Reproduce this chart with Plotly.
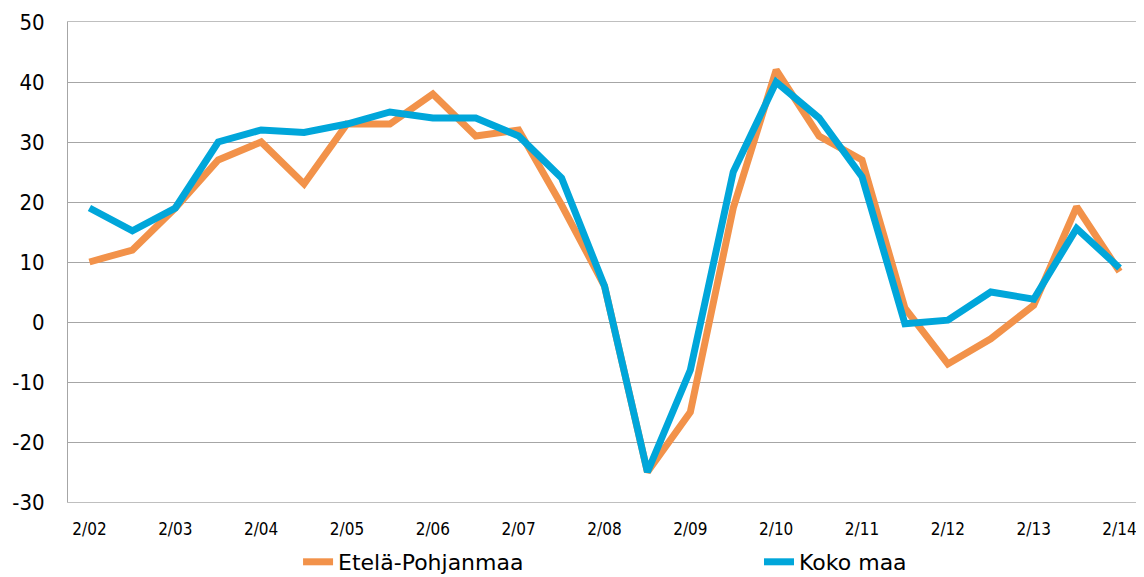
import plotly.graph_objects as go

categories = []
for yr in range(2, 15):
    categories.append(f"2/{yr:02d}")
    if yr < 14:
        categories.append(f"8/{yr:02d}")

tick_labels = [f"2/{yr:02d}" for yr in range(2, 15)]
y_ticks = [-30, -20, -10, 0, 10, 20, 30, 40, 50]

etela_pohjanmaa = [10, 12, 19, 27, 30, 23, 33, 33, 38, 31, 32, 19.5, 6,
                   -25, -15, 19, 42, 31, 27, 2.3, -7, -2.8, 2.8, 19.2, 8.4]
koko_maa = [19, 15.2, 19, 30, 32, 31.6, 33, 35, 34, 34, 31, 24, 6,
            -25, -8, 25, 40, 34, 24.2, -0.3, 0.3, 5, 3.8, 15.6, 9]

fig = go.Figure()
fig.add_trace(go.Scatter(x=categories, y=etela_pohjanmaa, mode="lines",
                         name="Etelä-Pohjanmaa", legend="legend",
                         line=dict(color="#F2924A", width=7)))
fig.add_trace(go.Scatter(x=categories, y=koko_maa, mode="lines",
                         name="Koko maa", legend="legend2",
                         line=dict(color="#00A6DA", width=7)))

legend_style = dict(orientation="h", xanchor="left", y=-0.125, yanchor="middle",
                    font=dict(size=22, family="DejaVu Sans"), bgcolor="rgba(0,0,0,0)")

# page has an 8px body margin, so the figure is sized/offset to compensate
fig.update_layout(
    width=1136, height=569,
    margin=dict(l=60, r=3, t=14, b=75, autoexpand=False),
    plot_bgcolor="white", paper_bgcolor="white",
    font=dict(family="DejaVu Sans Condensed, DejaVu Sans", color="#000000"),
    showlegend=True,
    legend=dict(x=0.2144, **legend_style),
    legend2=dict(x=0.644, **legend_style),
)
fig.update_xaxes(
    type="category", categoryorder="array", categoryarray=categories,
    range=[-0.5, len(categories) - 0.5], automargin=False,
    tickmode="array", tickvals=tick_labels, ticktext=tick_labels,
    tickfont=dict(size=17), ticks="", showgrid=False,
    showline=True, linecolor="#BFBFBF", linewidth=1, mirror=True,
    ticklabelstandoff=12,
)
fig.update_yaxes(
    range=[-30, 50], automargin=False,
    tickmode="array", tickvals=y_ticks, ticktext=[str(v) for v in y_ticks],
    tickfont=dict(size=22), ticks="",
    showgrid=True, gridcolor="#A6A6A6", gridwidth=1,
    zeroline=True, zerolinecolor="#A6A6A6", zerolinewidth=1,
    showline=True, linecolor="#A6A6A6", linewidth=1, mirror=True,
    ticklabelstandoff=18,
)

fig.write_html("out.html")
